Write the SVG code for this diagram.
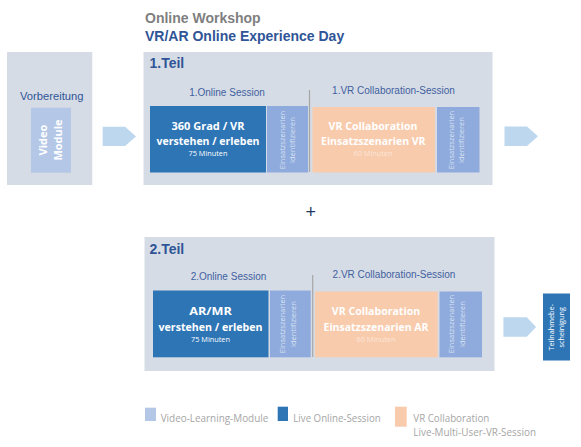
<svg xmlns="http://www.w3.org/2000/svg" width="581" height="447" viewBox="0 0 581 447">
<style>
.bg{fill:#d6dce5}
.blue{fill:#2e75b6}
.ein{fill:#8faadc}
.ora{fill:#f8cbad}
.vid{fill:#b4c7e7}
.arr{fill:#bdd7ee}
.div{stroke:#a6a6a6;stroke-width:1.2}
.h{font-family:"Liberation Sans",Arial,sans-serif;font-weight:bold;font-size:14px}
.lbl{font-family:"Liberation Sans",Arial,sans-serif;font-size:10px;fill:#3f5f9f;text-anchor:middle}
.big{font-family:"Open Sans","Noto Sans",sans-serif;font-weight:bold;font-size:11px;fill:#ffffff;text-anchor:middle}
.min{font-family:"Open Sans","Noto Sans",sans-serif;font-size:7.3px;text-anchor:middle}
.rot{font-family:"Open Sans","Noto Sans",sans-serif;font-size:7.5px;fill:#dae3f3;text-anchor:middle}
.leg{font-family:"Open Sans","Noto Sans",sans-serif;font-size:10px;fill:#a6a6a6}
</style>
<rect width="581" height="447" fill="#ffffff"/>
<g id="title">
<text class="h" x="145" y="23" fill="#7f7f7f">Online Workshop</text>
<text class="h" x="145" y="41" fill="#2f5597">VR/AR Online Experience Day</text>
</g>
<g id="vorbereitung">
<rect class="bg" x="7" y="52" width="85.3" height="133"/>
<text x="51.7" y="100" font-family="Liberation Sans,Arial,sans-serif" font-size="11.2" fill="#2f5597" text-anchor="middle">Vorbereitung</text>
<rect class="vid" x="31" y="107.7" width="40" height="65"/>
<text class="big" font-size="10" fill="#f2f5fb" transform="translate(46.8,140) rotate(-90)">Video</text>
<text class="big" font-size="10" fill="#f2f5fb" transform="translate(61.8,140) rotate(-90)">Module</text>
</g>
<g id="teil1">
<rect class="bg" x="143.5" y="52" width="349" height="133"/>
<text class="h" x="149.5" y="68" fill="#2f5597">1.Teil</text>
<text class="lbl" x="227" y="96">1.Online Session</text>
<text class="lbl" x="393.5" y="94">1.VR Collaboration-Session</text>
</g>
<g id="session1">
<rect class="blue" x="150" y="106" width="116" height="66.5"/>
<text class="big" x="208" y="129.5" textLength="73" lengthAdjust="spacingAndGlyphs">360 Grad / VR</text>
<text class="big" x="208" y="145" textLength="103" lengthAdjust="spacingAndGlyphs">verstehen / erleben</text>
<text class="min" x="208" y="156" fill="#ffffff">75 Minuten</text>
</g>
<g id="einsatz1a">
<rect class="ein" x="267" y="106" width="41" height="66.5"/>
<text class="rot" transform="translate(285,140) rotate(-90)">Einsatzszenarien</text>
<text class="rot" transform="translate(295.3,140) rotate(-90)">identifizieren</text>
</g>
<g id="vr1">
<rect class="ora" x="312.5" y="107" width="122.5" height="65.5"/>
<text class="big" x="373" y="129.5" textLength="89" lengthAdjust="spacingAndGlyphs">VR Collaboration</text>
<text class="big" x="373.3" y="145" textLength="104.5" lengthAdjust="spacingAndGlyphs">Einsatzszenarien VR</text>
<text class="min" x="373" y="156" fill="#fbe5d6">60 Minuten</text>
</g>
<g id="einsatz1b">
<rect class="ein" x="437" y="107" width="42.5" height="65.5"/>
<text class="rot" transform="translate(453.6,140) rotate(-90)">Einsatzszenarien</text>
<text class="rot" transform="translate(463.6,140) rotate(-90)">identifizieren</text>
</g>
<g id="plus">
<text x="310.7" y="217.5" font-family="Liberation Sans,Arial,sans-serif" font-size="18" fill="#1f3864" text-anchor="middle">+</text>
</g>
<g id="teil2">
<rect class="bg" x="144.5" y="237" width="350" height="134"/>
<text class="h" x="149.5" y="254" fill="#2f5597">2.Teil</text>
<text class="lbl" x="228.5" y="280">2.Online Session</text>
<text class="lbl" x="394" y="277.5">2.VR Collaboration-Session</text>
</g>
<g id="session2">
<rect class="blue" x="153" y="290.5" width="115.5" height="66.8"/>
<text class="big" x="210.5" y="315" textLength="42.7" lengthAdjust="spacingAndGlyphs">AR/MR</text>
<text class="big" x="210.5" y="330.7" textLength="104" lengthAdjust="spacingAndGlyphs">verstehen / erleben</text>
<text class="min" x="210.5" y="341.7" fill="#ffffff">75 Minuten</text>
</g>
<g id="einsatz2a">
<rect class="ein" x="270" y="290.5" width="40.7" height="66.8"/>
<text class="rot" transform="translate(284.7,324) rotate(-90)">Einsatzszenarien</text>
<text class="rot" transform="translate(296.2,324) rotate(-90)">identifizieren</text>
</g>
<g id="vr2">
<rect class="ora" x="315" y="291.5" width="122.7" height="65.8"/>
<text class="big" x="376" y="315" textLength="88.3" lengthAdjust="spacingAndGlyphs">VR Collaboration</text>
<text class="big" x="376" y="330.7" textLength="105" lengthAdjust="spacingAndGlyphs">Einsatzszenarien AR</text>
<text class="min" x="376" y="341.7" fill="#fbe5d6">60 Minuten</text>
</g>
<g id="einsatz2b">
<rect class="ein" x="439.5" y="291.5" width="42.5" height="65.8"/>
<text class="rot" transform="translate(454.4,324) rotate(-90)">Einsatzszenarien</text>
<text class="rot" transform="translate(465.4,324) rotate(-90)">identifizieren</text>
</g>
<g id="teilnahme">
<rect class="blue" x="543" y="293.5" width="27" height="67"/>
<text class="min" font-size="7.6" fill="#ffffff" transform="translate(554.3,327.3) rotate(-90)">Teilnahmebe-</text>
<text class="min" font-size="7.6" fill="#ffffff" transform="translate(564.3,327.3) rotate(-90)">scheinigung</text>
</g>
<g id="connectors">
<line class="div" x1="309.5" y1="90" x2="309.5" y2="172"/>
<line class="div" x1="312.7" y1="275" x2="312.7" y2="357"/>
<polygon class="arr" points="102.7,126.7 125,126.7 136,136.4 125,146 102.7,146"/>
<polygon class="arr" points="504.5,126.5 527,126.5 538,136.3 527,146 504.5,146"/>
<polygon class="arr" points="503.4,317.3 526.8,317.3 536.1,327 526.8,336.7 503.4,336.7"/>
</g>
<g id="legend">
<rect class="vid" x="145" y="407.7" width="11" height="13.3"/>
<text class="leg" x="160.7" y="421.7" textLength="107.6" lengthAdjust="spacingAndGlyphs">Video-Learning-Module</text>
<rect class="blue" x="277.7" y="406.7" width="10.3" height="14.3"/>
<text class="leg" x="293.3" y="421.7" textLength="87.4" lengthAdjust="spacingAndGlyphs">Live Online-Session</text>
<rect class="ora" x="395" y="406.7" width="11.7" height="20"/>
<text class="leg" x="413.3" y="421.7" textLength="76" lengthAdjust="spacingAndGlyphs">VR Collaboration</text>
<text class="leg" x="413.3" y="435.7" textLength="122.7" lengthAdjust="spacingAndGlyphs">Live-Multi-User-VR-Session</text>
</g>
</svg>
